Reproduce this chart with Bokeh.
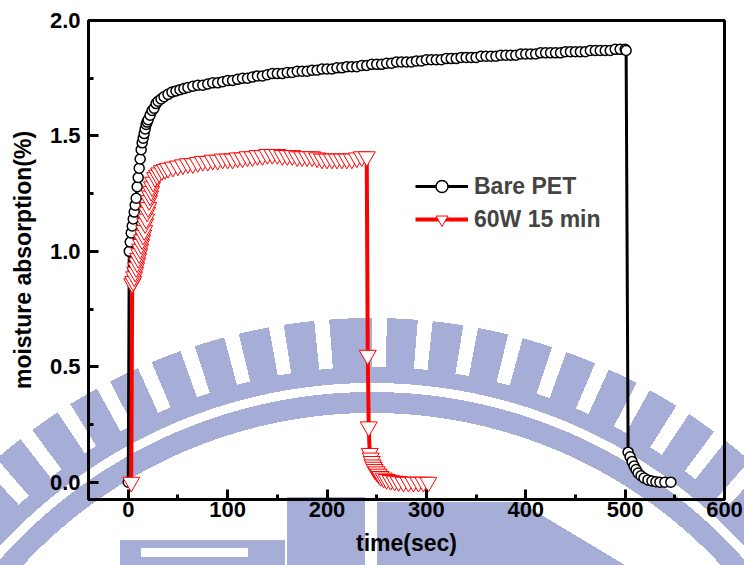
from bokeh.plotting import figure
from bokeh.models import Legend, LegendItem, FixedTicker, Range1d
from bokeh.embed import file_html
from bokeh.resources import INLINE

# ---------------- data ----------------
bare_t = [0, 1, 2, 3, 4, 5, 6, 7, 8, 9, 10, 11, 12, 13, 14, 15, 16, 17, 18, 19, 20,
          22, 24, 26, 28, 30, 33, 36, 40, 44, 48, 52, 56, 60,
          65, 70, 75, 80, 85, 90, 95, 100, 105, 110, 115, 120, 125, 130, 135, 140,
          145, 150, 155, 160, 165, 170, 175, 180, 185, 190, 195, 200, 205, 210, 215,
          220, 225, 230, 235, 240, 245, 250, 255, 260, 265, 270, 275, 280, 285, 290,
          295, 300, 305, 310, 315, 320, 325, 330, 335, 340, 345, 350, 355, 360, 365,
          370, 375, 380, 385, 390, 395, 400, 405, 410, 415, 420, 425, 430, 435, 440,
          445, 450, 455, 460, 465, 470, 475, 480, 485, 490, 495, 500, 501,
          503, 505, 507, 509, 511, 513, 516, 519, 523, 527, 531, 535, 540, 546]
bare_y = [0.00, 1.00, 1.04, 1.08, 1.11, 1.14, 1.17, 1.20, 1.23, 1.28, 1.32, 1.36, 1.40, 1.44,
          1.47, 1.49, 1.51, 1.53, 1.55, 1.56, 1.57,
          1.59, 1.61, 1.62, 1.64, 1.65, 1.66, 1.67, 1.68, 1.69, 1.695, 1.70, 1.705, 1.71,
          1.715, 1.72, 1.72, 1.725, 1.73, 1.73, 1.735, 1.74, 1.74, 1.745, 1.75, 1.75, 1.755,
          1.76, 1.76, 1.765, 1.77, 1.77, 1.77, 1.775, 1.775, 1.78, 1.78, 1.78, 1.785, 1.785,
          1.79, 1.79, 1.79, 1.795, 1.795, 1.80, 1.80, 1.80, 1.805, 1.805, 1.81, 1.81, 1.81,
          1.815, 1.815, 1.82, 1.82, 1.82, 1.82, 1.825, 1.825, 1.83, 1.83, 1.83, 1.83, 1.835,
          1.835, 1.835, 1.84, 1.84, 1.84, 1.84, 1.845, 1.845, 1.845, 1.845, 1.85, 1.85, 1.85,
          1.85, 1.855, 1.855, 1.855, 1.855, 1.86, 1.86, 1.86, 1.86, 1.86, 1.865, 1.865, 1.865,
          1.865, 1.865, 1.87, 1.87, 1.87, 1.87, 1.87, 1.875, 1.875, 1.875, 1.87,
          0.13, 0.11, 0.09, 0.07, 0.055, 0.04, 0.028, 0.018, 0.01, 0.005, 0.002, 0.0, 0.0, 0.0]

plasma_t = [3, 4, 5, 6, 7, 8, 9, 10, 11, 12, 13, 14, 15, 16, 17, 18, 19, 20, 21, 22, 23, 24,
            25, 27, 29, 31, 34, 37, 40, 45, 50, 55, 60, 65, 70, 75, 80, 85, 90, 95, 100,
            105, 110, 115, 120, 125, 130, 135, 140, 145, 150, 155, 160, 165, 170, 175, 180,
            185, 190, 195, 200, 205, 210, 215, 220, 225, 230, 235, 240,
            241, 242, 243, 244, 245, 246, 247, 248, 250, 252, 254, 257, 260, 264, 268, 272,
            277, 282, 287, 292, 297, 302]
plasma_y = [0.0, 0.86, 0.87, 0.89, 0.91, 0.93, 0.95, 0.97, 0.99, 1.01, 1.03, 1.05, 1.07, 1.09,
            1.12, 1.14, 1.17, 1.19, 1.22, 1.24, 1.26, 1.28, 1.30, 1.32, 1.33, 1.34, 1.35, 1.355,
            1.36, 1.365, 1.37, 1.375, 1.38, 1.38, 1.385, 1.39, 1.39, 1.395, 1.395, 1.40, 1.40,
            1.40, 1.405, 1.405, 1.41, 1.41, 1.415, 1.415, 1.42, 1.42, 1.42, 1.415, 1.415, 1.415,
            1.41, 1.41, 1.41, 1.41, 1.405, 1.40, 1.40, 1.40, 1.40, 1.40, 1.40, 1.40, 1.405,
            1.41, 1.41,
            0.55, 0.24, 0.125, 0.105, 0.09, 0.075, 0.065, 0.055, 0.045, 0.035, 0.025, 0.018,
            0.012, 0.008, 0.005, 0.003, 0.0, 0.0, 0.0, 0.0, 0.0, 0.0]

series_labels = ["Bare PET", "60W 15 min"]
x_ticks = [0, 100, 200, 300, 400, 500, 600]
x_minor = [50, 150, 250, 350, 450, 550]
y_ticks = [0.0, 0.5, 1.0, 1.5, 2.0]
y_tick_labels = ["0.0", "0.5", "1.0", "1.5", "2.0"]
y_minor = [0.25, 0.75, 1.25, 1.75]

# ---------------- figure ----------------
FONT = "Liberation Sans"
WM = "#a6add6"
CX, CY = "372px", "889px"

p = figure(width=744, height=565, x_range=Range1d(-40, 600), y_range=Range1d(-0.075, 2.0),
           output_backend="svg", toolbar_location=None,
           min_border_left=88, min_border_right=20, min_border_top=20, min_border_bottom=66)

# decorative background watermark (page decoration, not data)
p.background_fill_alpha = 0
p.border_fill_alpha = 0
layers = [
    (f"radial-gradient(circle at {CX} {CY}, transparent 476px, {WM} 476px, {WM} 497px, transparent 497px)", "0 0", "100% 100%"),
    (f"radial-gradient(circle at {CX} {CY}, transparent 506px, {WM} 506px, {WM} 522px, transparent 522px)", "0 0", "100% 100%"),
    ("linear-gradient(white, white)", "141px 548px", "107px 9px"),
    (f"linear-gradient({WM}, {WM})", "120px 540px", "165px 25px"),
    (f"linear-gradient({WM}, {WM})", "287px 497px", "78px 68px"),
    (f"linear-gradient({WM}, {WM})", "377px 502px", "80px 63px"),
    (f"linear-gradient({WM}, {WM})", "457px 502px", "63px 63px"),
    (f"linear-gradient(to top right, {WM} 50%, transparent 50%)", "520px 502px", "105px 63px"),
    (f"radial-gradient(circle at {CX} {CY}, white 506px, transparent 506px, transparent 571px, white 571px)", "0 0", "100% 100%"),
    (f"repeating-conic-gradient(from -3.1deg at {CX} {CY}, {WM} 0deg 3.1deg, white 3.1deg 4.6deg)", "0 0", "100% 100%"),
]
p.styles = {
    "background-color": "white",
    "background-image": ", ".join(l[0] for l in layers),
    "background-position": ", ".join(l[1] for l in layers),
    "background-size": ", ".join(l[2] for l in layers),
    "background-repeat": "no-repeat",
}

p.xgrid.visible = False
p.ygrid.visible = False
p.outline_line_color = "black"
p.outline_line_width = 3

l1 = p.line(bare_t, bare_y, line_color="black", line_width=3)
s1 = p.scatter(bare_t, bare_y, marker="circle", size=10, line_color="black",
               line_width=1.5, fill_color="white")
l2 = p.line(plasma_t, plasma_y, line_color="red", line_width=4)
s2 = p.scatter(plasma_t, plasma_y, marker="inverted_triangle", size=17, line_color="red",
               line_width=1, fill_color="white")

for ax in (p.xaxis[0], p.yaxis[0]):
    ax.axis_line_width = 3
    ax.major_tick_in = 10
    ax.major_tick_out = 0
    ax.minor_tick_in = 5
    ax.minor_tick_out = 0
    ax.major_tick_line_width = 3
    ax.minor_tick_line_width = 3
    ax.major_label_text_font = FONT
    ax.major_label_text_font_style = "bold"
    ax.major_label_text_font_size = "22px"
    ax.major_label_text_color = "black"
    ax.axis_label_text_font = FONT
    ax.axis_label_text_font_style = "bold"
    ax.axis_label_text_font_size = "23px"
    ax.axis_label_text_color = "black"

p.xaxis.ticker = FixedTicker(ticks=x_ticks, minor_ticks=x_minor)
p.yaxis.ticker = FixedTicker(ticks=y_ticks, minor_ticks=y_minor)
p.yaxis.major_label_overrides = {v: s for v, s in zip(y_ticks, y_tick_labels)}
p.xaxis.axis_label = "time(sec)"
p.yaxis.axis_label = "moisture absorption(%)"
p.xaxis.major_label_standoff = 2
p.xaxis.axis_label_standoff = 10
p.yaxis.major_label_standoff = 8
p.yaxis.axis_label_standoff = 11

legend = Legend(items=[LegendItem(label=series_labels[0], renderers=[l1, s1]),
                       LegendItem(label=series_labels[1], renderers=[l2, s2])],
                location=(327, 265))
legend.glyph_width = 53
legend.glyph_height = 30
legend.label_height = 30
legend.label_standoff = 6
legend.padding = 0
legend.margin = 0
legend.spacing = 3
legend.border_line_alpha = 0
legend.background_fill_alpha = 0
legend.label_text_font = FONT
legend.label_text_font_style = "bold"
legend.label_text_font_size = "23px"
p.add_layout(legend, "center")

open("out.html", "w").write(file_html(p, INLINE))
